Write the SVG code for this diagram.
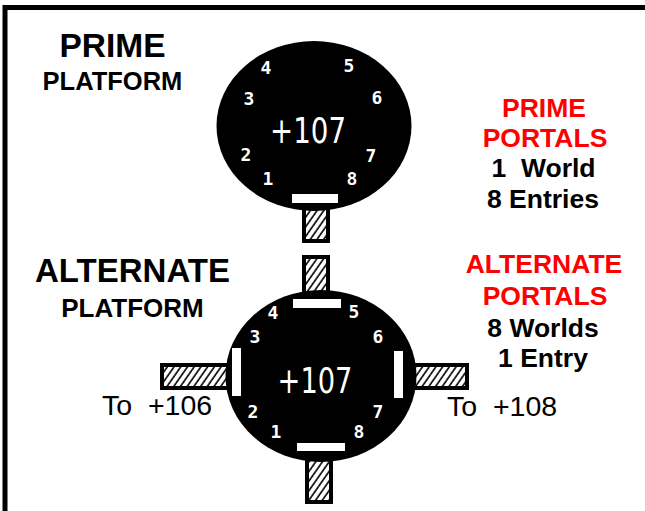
<svg xmlns="http://www.w3.org/2000/svg" width="645" height="511" viewBox="0 0 645 511">
<defs>
<pattern id="hatch" patternUnits="userSpaceOnUse" width="5.5" height="6" patternTransform="rotate(35)">
<rect width="5.5" height="6" fill="#fff"/>
<line x1="1" y1="0" x2="1" y2="6" stroke="#000" stroke-width="1.6"/>
</pattern>
</defs>
<style>
.stub{fill:url(#hatch);stroke:#000;stroke-width:4}
.disc{fill:#000}
.bar{fill:#fff}
.num{font-family:"DejaVu Sans Mono",monospace;font-weight:bold;font-size:18px;fill:#fff;text-anchor:middle}
.big{font-family:"DejaVu Sans",sans-serif;font-size:36px;fill:#fff;text-anchor:middle}
.h1{font-family:"Liberation Sans",Arial,sans-serif;font-weight:bold;text-anchor:middle;fill:#000}
.red{fill:#ff0000}
.to{font-family:"Liberation Sans",Arial,sans-serif;font-size:28.5px;fill:#000;white-space:pre}
</style>
<rect width="645" height="511" fill="#fff"/>
<path d="M5,511 V7.5 H645" fill="none" stroke="#000" stroke-width="5"/>

<g id="connectors">
<rect class="stub" x="304" y="200" width="24" height="41"/>
<rect class="stub" x="304" y="257" width="24" height="40"/>
<rect class="stub" x="307" y="450" width="24" height="52"/>
<rect class="stub" x="162" y="365" width="75" height="23"/>
<rect class="stub" x="405" y="365" width="62" height="23"/>
</g>

<g id="prime-platform">
<ellipse class="disc" cx="314" cy="126" rx="97.5" ry="85"/>
<rect class="bar" x="292" y="194" width="46" height="9"/>
<text class="big" x="308" y="143" textLength="76" lengthAdjust="spacingAndGlyphs">+107</text>
<g class="num">
<text x="266" y="74">4</text>
<text x="349" y="72">5</text>
<text x="249" y="105">3</text>
<text x="377" y="104">6</text>
<text x="246" y="161">2</text>
<text x="371" y="162">7</text>
<text x="268" y="185">1</text>
<text x="352" y="185">8</text>
</g>
</g>

<g id="alternate-platform">
<ellipse class="disc" cx="321" cy="376" rx="95.5" ry="86"/>
<rect class="bar" x="293" y="299" width="48" height="9"/>
<rect class="bar" x="297" y="443" width="48" height="8"/>
<rect class="bar" x="232" y="348" width="9" height="48"/>
<rect class="bar" x="394" y="351" width="9" height="47"/>
<text class="big" x="315" y="393" textLength="75" lengthAdjust="spacingAndGlyphs">+107</text>
<g class="num">
<text x="273" y="319">4</text>
<text x="354" y="318">5</text>
<text x="255" y="343">3</text>
<text x="378" y="343">6</text>
<text x="253" y="418">2</text>
<text x="378" y="418">7</text>
<text x="276" y="438">1</text>
<text x="359" y="438">8</text>
</g>
</g>

<g id="prime-label">
<text class="h1" x="112.5" y="57" font-size="33.5">PRIME</text>
<text class="h1" x="112.5" y="90" font-size="25.5">PLATFORM</text>
</g>

<g id="alternate-label">
<text class="h1" x="132.5" y="282" font-size="33">ALTERNATE</text>
<text class="h1" x="132.5" y="317" font-size="26">PLATFORM</text>
</g>

<g id="prime-portals">
<text class="h1 red" x="544" y="117" font-size="26.5">PRIME</text>
<text class="h1 red" x="545" y="147" font-size="26.5">PORTALS</text>
<text class="h1" x="543.5" y="177" font-size="26.5" style="white-space:pre">1  World</text>
<text class="h1" x="543" y="208" font-size="26.5">8 Entries</text>
</g>

<g id="alternate-portals">
<text class="h1 red" x="544" y="273" font-size="26.5">ALTERNATE</text>
<text class="h1 red" x="545" y="305" font-size="26.5">PORTALS</text>
<text class="h1" x="543" y="337" font-size="26.5">8 Worlds</text>
<text class="h1" x="543" y="367" font-size="26.5">1 Entry</text>
</g>

<g id="to-106">
<text class="to" x="102" y="415">To  +106</text>
</g>
<g id="to-108">
<text class="to" x="447" y="416">To  +108</text>
</g>
</svg>
